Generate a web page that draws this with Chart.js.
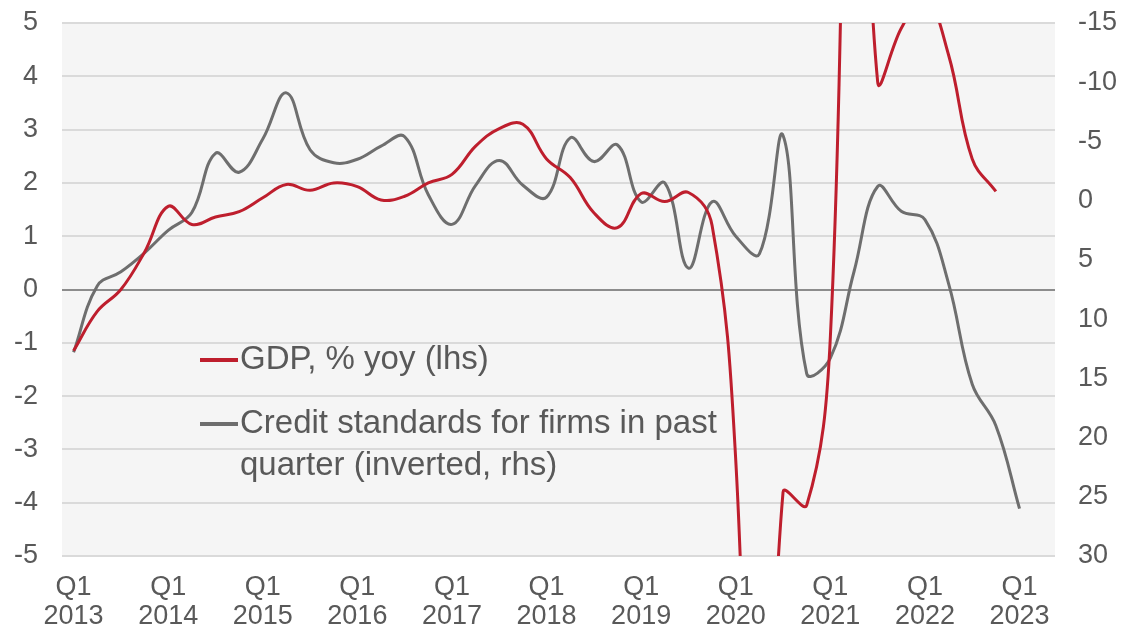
<!DOCTYPE html>
<html>
<head>
<meta charset="utf-8">
<script src="https://cdn.jsdelivr.net/npm/chart.js@4.4.1/dist/chart.umd.min.js"></script>
<style>
  html, body { margin: 0; padding: 0; background: #fff; }
  #wrap { width: 1123px; height: 629px; position: relative; }
</style>
</head>
<body>
<div id="wrap"><canvas id="chart"></canvas></div>
<script>
// quarterly, Q1 2013 .. Q1 2023 (index 0 = Q1 2013)
const gdpYoy = [-1.15, -0.41, 0.0, 0.7, 1.56, 1.22, 1.36, 1.46, 1.72, 1.97,
  1.86, 2.0, 1.93, 1.68, 1.75, 2.0, 2.16, 2.69, 3.02, 3.1,
  2.45, 2.1, 1.44, 1.16, 1.8, 1.65, 1.82, 1.2, -3.2, -14.5,
  -3.8, -4.05, -0.9, 14.2, 3.9, 4.9, 5.5, 4.4, 2.45, 1.84, null]
const creditStandards = [12.8, 7.2, 6.0, 4.4, 2.5, 1.0, -4.0, -2.4, -5.2, -9.1,
  -4.3, -3.2, -3.5, -4.6, -5.4, -0.5, 2.0, -1.3, -3.4, -1.3,
  -0.3, -5.3, -3.3, -4.7, 0.1, -1.5, 5.7, 0.1, 3.0, 4.5,
  -5.5, 14.6, 13.3, 6.0, -1.2, 0.9, 1.6, 7.0, 15.5, 19.0, 26.0]
const tickYears = ['2013', '2014', '2015', '2016', '2017', '2018', '2019', '2020', '2021', '2022', '2023']
const seriesNames = ['GDP, % yoy (lhs)', 'Credit standards for firms in past quarter (inverted, rhs)']

const RED = '#be1e2d'
const GREY = '#6e6e6e'
const TXT = '#595959'
const FONT = "'Liberation Sans', Arial, sans-serif"

const toPoints = arr => arr.map((v, i) => ({x: i, y: v}))

const plotBg = {
  id: 'plotBg',
  beforeDraw(chart) {
    const {ctx, chartArea: a} = chart
    ctx.save()
    ctx.fillStyle = '#f5f5f5'
    ctx.fillRect(a.left, a.top, a.right - a.left, a.bottom - a.top)
    ctx.restore()
  }
}

// legend sits inside the plot, second label wraps over two lines
const insideLegend = {
  id: 'insideLegend',
  afterDatasetsDraw(chart) {
    const ctx = chart.ctx
    const items = [
      {color: RED, lines: [seriesNames[0]], y: 360},
      {color: GREY, lines: ['Credit standards for firms in past', 'quarter (inverted, rhs)'], y: 424}
    ]
    ctx.save()
    ctx.font = '33px ' + FONT
    ctx.textBaseline = 'middle'
    ctx.fillStyle = TXT
    items.forEach(it => {
      ctx.strokeStyle = it.color
      ctx.lineWidth = 4
      ctx.beginPath()
      ctx.moveTo(200, it.y)
      ctx.lineTo(238, it.y)
      ctx.stroke()
      it.lines.forEach((t, k) => ctx.fillText(t, 240, it.y + k * 42))
    })
    ctx.restore()
  }
}

const fitY = w => s => {
  s.width = w
  s.paddingTop = 0
  s.paddingBottom = 0
}

new Chart(document.getElementById('chart'), {
  type: 'line',
  data: {
    datasets: [{
      label: seriesNames[0],
      data: toPoints(gdpYoy),
      yAxisID: 'y',
      borderColor: RED,
      borderWidth: 3,
      pointRadius: 0,
      tension: 0.4
    }, {
      label: seriesNames[1],
      data: toPoints(creditStandards),
      yAxisID: 'y1',
      borderColor: GREY,
      borderWidth: 3,
      pointRadius: 0,
      tension: 0.4
    }]
  },
  options: {
    responsive: true,
    maintainAspectRatio: false,
    animation: false,
    layout: {padding: {top: 23}},
    plugins: {legend: {display: false}, tooltip: {enabled: false}},
    scales: {
      x: {
        type: 'linear',
        min: -0.49,
        max: 41.5,
        grid: {display: false},
        border: {display: false},
        afterBuildTicks: s => { s.ticks = tickYears.map((y, k) => ({value: k * 4})) },
        afterFit: s => { s.height = 73 },
        ticks: {
          maxRotation: 0,
          autoSkip: false,
          padding: 9,
          color: TXT,
          font: {family: FONT, size: 27, lineHeight: 1.08},
          callback: v => ['Q1', tickYears[v / 4]]
        }
      },
      y: {
        position: 'left',
        min: -5,
        max: 5,
        afterFit: fitY(62),
        border: {display: false},
        grid: {
          drawTicks: false,
          lineWidth: 2,
          color: c => c.tick.value === 0 ? '#8c8c8c' : '#dadada'
        },
        ticks: {stepSize: 1, padding: 24, color: TXT, font: {family: FONT, size: 27}}
      },
      y1: {
        position: 'right',
        min: -15,
        max: 30,
        reverse: true,
        afterFit: fitY(68),
        border: {display: false},
        grid: {display: false, drawTicks: false},
        ticks: {stepSize: 5, padding: 23, color: TXT, font: {family: FONT, size: 27}}
      }
    }
  },
  plugins: [plotBg, insideLegend]
})
</script>
</body>
</html>
